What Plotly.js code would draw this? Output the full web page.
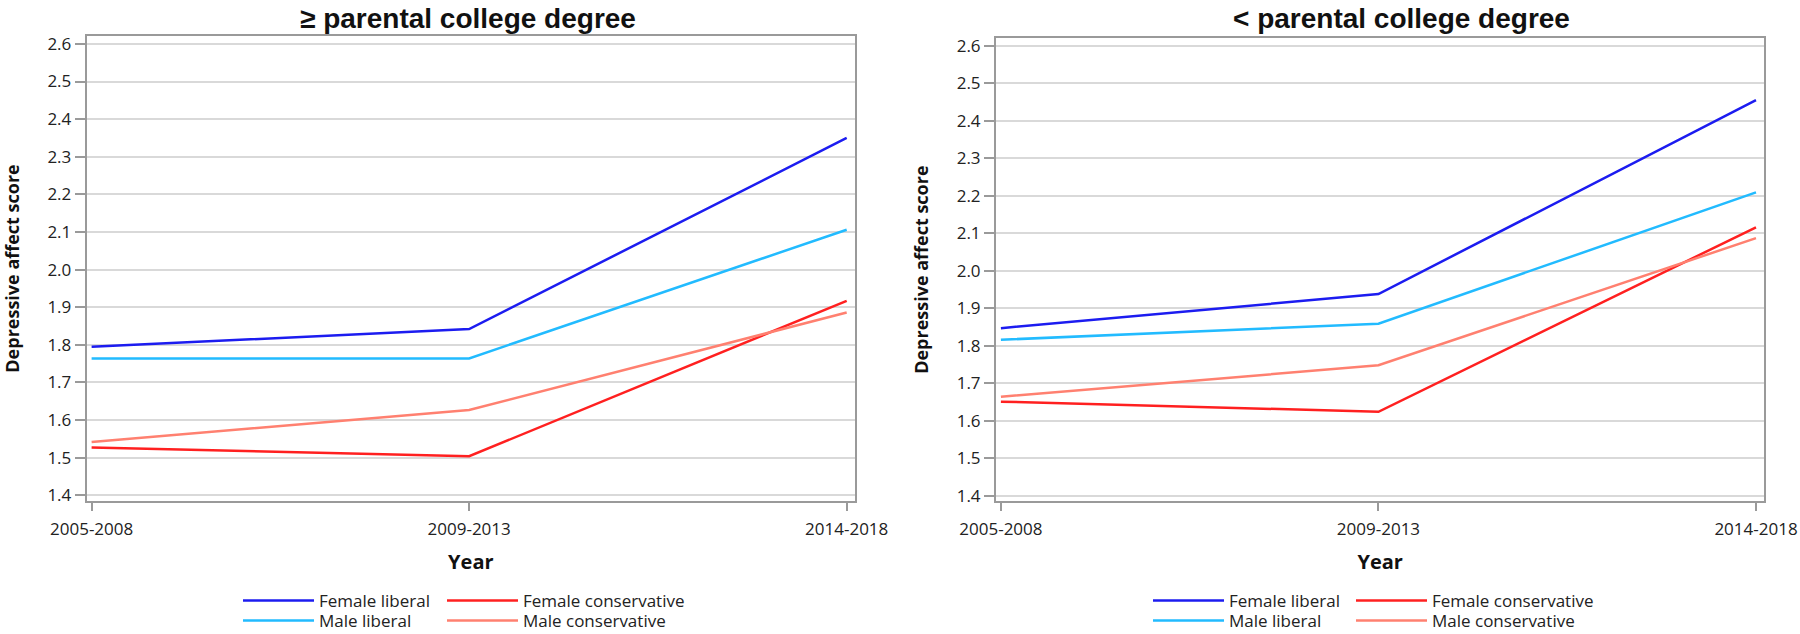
<!DOCTYPE html>
<html>
<head>
<meta charset="utf-8">
<script src="https://cdn.plot.ly/plotly-3.0.1.min.js"></script>
<style>html,body{margin:0;padding:0;background:#fff;overflow:hidden;}#chart{width:1800px;height:634px;}</style>
</head>
<body>
<div id="chart"></div>
<script>
// Categories
var years = ['2005-2008', '2009-2013', '2014-2018'];
var seriesNames = ['Female liberal', 'Female conservative', 'Male liberal', 'Male conservative'];
var panelTitles = ['\u2265 parental college degree', '< parental college degree'];

// ≥ parental college degree
var hiFemaleLib = [1.795, 1.842, 2.350];
var hiFemaleCon = [1.527, 1.504, 1.917];
var hiMaleLib   = [1.764, 1.764, 2.106];
var hiMaleCon   = [1.542, 1.627, 1.886];

// < parental college degree
var loFemaleLib = [1.847, 1.938, 2.455];
var loFemaleCon = [1.651, 1.624, 2.116];
var loMaleLib   = [1.816, 1.859, 2.209];
var loMaleCon   = [1.664, 1.748, 2.087];

var colors = ['#1c1cf0', '#ff2020', '#22bbff', '#ff8070'];

var W = 1800, H = 634;
function px(x) { return x / W; }
function py(y) { return 1 - y / H; }

var panels = [
  {vals: [hiFemaleLib, hiFemaleCon, hiMaleLib, hiMaleCon], xa: 'x', ya: 'y'},
  {vals: [loFemaleLib, loFemaleCon, loMaleLib, loMaleCon], xa: 'x2', ya: 'y2'}
];

var traces = [];
var legendIdx = 1;
panels.forEach(function (p) {
  p.vals.forEach(function (v, i) {
    traces.push({
      type: 'scatter', mode: 'lines',
      x: years, y: v, name: seriesNames[i],
      xaxis: p.xa, yaxis: p.ya,
      line: {color: colors[i], width: 2.5},
      legend: legendIdx === 1 ? 'legend' : 'legend' + legendIdx,
      hoverinfo: 'x+y+name'
    });
    legendIdx++;
  });
});

var tickFont = {family: 'Open Sans', size: 17, color: '#222'};
var titleFontAx = {family: 'Open Sans', size: 18, color: '#111', weight: 'bold'};

function xAxis(domain) {
  return {
    domain: domain, type: 'category', range: [-0.013, 2.022],
    showline: true, mirror: true, linecolor: '#9a9a9a', linewidth: 2,
    ticks: 'outside', ticklen: 8, tickwidth: 2, tickcolor: '#9a9a9a',
    ticklabelstandoff: 4,
    showgrid: false, zeroline: false,
    tickfont: tickFont,
    title: {text: 'Year', font: {family: 'Open Sans', size: 20, color: '#111', weight: 'bold'}, standoff: 16},
    fixedrange: true
  };
}
function yAxis(domain, range, anchor) {
  return {
    domain: domain, range: range, anchor: anchor,
    tick0: 1.4, dtick: 0.1, tickformat: '.1f',
    showline: true, mirror: true, linecolor: '#9a9a9a', linewidth: 2,
    ticks: 'outside', ticklen: 10, tickwidth: 2, tickcolor: '#9a9a9a',
    showgrid: true, gridcolor: '#d9d9d9', gridwidth: 2,
    zeroline: false,
    tickfont: tickFont,
    title: {text: 'Depressive affect score', font: titleFontAx, standoff: 23},
    fixedrange: true
  };
}

var layout = {
  width: W, height: H,
  margin: {l: 0, r: 0, t: 0, b: 0, autoexpand: false},
  paper_bgcolor: '#fff', plot_bgcolor: '#fff',
  showlegend: true,
  xaxis: xAxis([px(86.7), px(855)]),
  yaxis: yAxis([py(501), py(36)], [1.385, 2.621], 'x'),
  xaxis2: Object.assign(xAxis([px(996), px(1764.3)]), {anchor: 'y2'}),
  yaxis2: yAxis([py(501), py(38.3)], [1.386, 2.62], 'x2'),
  annotations: [
    {text: '<b>' + panelTitles[0] + '</b>', xref: 'paper', yref: 'paper', x: px(468), y: py(18),
     xanchor: 'center', yanchor: 'middle', showarrow: false,
     font: {family: 'Liberation Sans', size: 28, color: '#111'}},
    {text: '<b>' + panelTitles[1] + '</b>', xref: 'paper', yref: 'paper', x: px(1401), y: py(18),
     xanchor: 'center', yanchor: 'middle', showarrow: false,
     font: {family: 'Liberation Sans', size: 28, color: '#111'}}
  ]
};

// Legend placement: two columns x two rows under each panel
var legendPos = [
  [238, 601], [442, 601], [238, 621], [442, 621],
  [1148, 601], [1351, 601], [1148, 621], [1351, 621]
];
legendPos.forEach(function (p, i) {
  var key = i === 0 ? 'legend' : 'legend' + (i + 1);
  layout[key] = {
    x: px(p[0]), y: py(p[1]), xanchor: 'left', yanchor: 'middle',
    xref: 'paper', yref: 'paper',
    orientation: 'v', bgcolor: 'rgba(0,0,0,0)', borderwidth: 0,
    itemwidth: 71, itemclick: false, itemdoubleclick: false,
    font: {family: 'Open Sans', size: 17, color: '#222'}
  };
});

Plotly.newPlot('chart', traces, layout, {displayModeBar: false, staticPlot: true});
</script>
</body>
</html>
